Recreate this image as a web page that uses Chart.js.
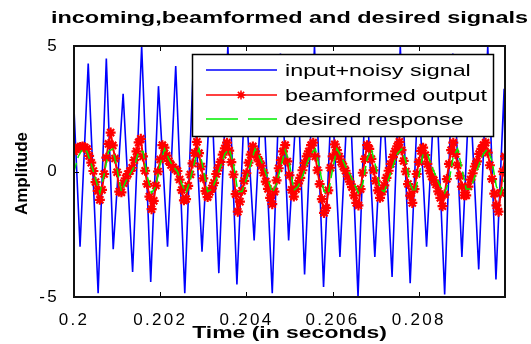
<!DOCTYPE html>
<html>
<head>
<meta charset="utf-8">
<script src="https://cdn.jsdelivr.net/npm/chart.js@4.4.0/dist/chart.umd.min.js"></script>
<style>
  html, body { margin: 0; padding: 0; background: #fff; }
</style>
</head>
<body>
<canvas id="myChart" width="531" height="344"></canvas>
<script>
// input + noise: times (s) and amplitudes read at the peaks / troughs
const blueT = [0.2, 0.20014, 0.20033, 0.20056, 0.20075, 0.20091, 0.20114, 0.20136, 0.20157, 0.20178,
  0.20196, 0.20217, 0.20236, 0.20257, 0.20276, 0.20297, 0.20318, 0.20336, 0.20357, 0.20378,
  0.20397, 0.20418, 0.20437, 0.2046, 0.20479, 0.20498, 0.20519, 0.20535, 0.20558, 0.20579,
  0.20598, 0.20617, 0.20638, 0.20659, 0.20677, 0.20698, 0.20717, 0.20738, 0.20757, 0.2078,
  0.20799, 0.20818, 0.20839, 0.2086, 0.20879, 0.209, 0.20918, 0.20939, 0.2096, 0.20979,
  0.20998, 0.21];
const blueV = [2.5, -3.0, 4.3, -4.85, 4.5, -3.1, 3.1, -4.0, 5.0, -4.4,
  3.4, -3.0, 4.2, -4.85, 3.9, -3.2, 3.6, -4.05, 5.0, -4.5,
  3.3, -2.75, 3.8, -4.85, 4.7, -2.75, 3.5, -4.1, 5.0, -4.6,
  3.2, -3.4, 4.0, -5.0, 3.6, -3.4, 3.0, -4.2, 5.0, -4.45,
  3.4, -3.0, 3.9, -4.9, 4.7, -3.4, 3.5, -3.9, 5.0, -4.3,
  3.3, 0.5];

// beamformed output, one value every 0.05 ms from 0.2 s
const redStart = 0.2;
const redStep = 0.00005;
const redV = [0.8, 0.88, 0.95, 0.98, 1.0, 0.96, 0.9, 0.62, 0.35, 0.02,
  -0.42, -0.77, -1.13, -0.73, -0.1, 0.55, 1.1, 1.55, 1.04, 0.52,
  -0.03, -0.8, -0.83, -0.47, -0.27, -0.1, 0.02, 0.15, 0.45, 0.8,
  1.16, 1.3, 0.6, 0.03, -0.5, -1.0, -1.5, -1.17, -0.56, 0.0,
  0.48, 1.05, 0.95, 0.63, 0.42, 0.26, 0.17, 0.09, 0.02, -0.32,
  -0.74, -1.15, -1.1, -0.57, -0.12, 0.32, 0.74, 1.18, 0.73, 0.2,
  -0.27, -0.78, -1.02, -0.81, -0.67, -0.45, -0.1, 0.15, 0.38, 0.67,
  0.92, 1.15, 0.83, 0.37, -0.12, -0.9, -1.6, -1.2, -0.77, -0.37,
  -0.07, 0.35, 0.67, 1.0, 0.8, 0.57, 0.4, 0.23, -0.05, -0.4,
  -0.69, -1.05, -1.3, -0.8, -0.35, 0.13, 0.45, 0.8, 1.05, 0.4,
  -0.15, -0.73, -1.0, -0.7, -0.47, -0.25, 0.05, 0.33, 0.6, 0.8,
  1.05, 1.15, 0.6, 0.05, -0.5, -1.1, -1.65, -1.45, -0.75, 0.15,
  0.6, 1.08, 0.85, 0.6, 0.38, 0.2, 0.03, -0.2, -0.4, -0.62,
  -0.95, -1.25, -1.35, -0.7, -0.05, 0.5, 1.05, 0.9, 0.5, 0.05,
  -0.37, -0.75, -1.05, -0.8, -0.55, -0.25, 0.03, 0.3, 0.57, 0.8,
  1.0, 1.18, 0.85, 0.42, 0.0, -0.5, -0.96, -1.25, -0.7, -0.1,
  0.38, 0.82, 0.95, 0.65, 0.3, 0.03, -0.2, -0.35, -0.52, -0.79,
  -1.05, -1.38, -0.92, -0.3, 0.3, 0.85, 1.15, 0.7, 0.25, -0.17,
  -0.6, -0.95, -0.95, -0.6, -0.32, -0.07, 0.2, 0.4, 0.7, 0.9,
  1.05, 1.15, 0.75, 0.25, -0.3, -0.88, -1.35, -1.6, -0.85, 0.0,
  0.6];

// desired response, one value every 0.1 ms from 0.2 s
const greenStart = 0.2;
const greenStep = 0.0001;
const greenV = [0.0, 0.6, 0.9, 0.8, 0.3, -0.3, -0.85, -0.1, 0.8, 0.9,
  0.1, -0.8, -0.4, -0.1, 0.2, 0.8, 0.8, -0.2, -0.85, -0.6,
  0.3, 0.9, 0.5, 0.2, 0.0, -0.5, -0.85, -0.3, 0.4, 0.9,
  0.1, -0.8, -0.7, -0.3, 0.2, 0.7, 0.9, 0.3, -0.8, -0.8,
  -0.3, 0.3, 0.9, 0.6, 0.2, -0.3, -0.85, -0.5, 0.2, 0.85,
  0.3, -0.75, -0.6, -0.2, 0.3, 0.7, 0.9, 0.1, -0.8, -0.9,
  0.1, 0.9, 0.6, 0.2, -0.1, -0.5, -0.85, -0.5, 0.5, 0.9,
  0.2, -0.7, -0.8, -0.3, 0.2, 0.7, 0.9, 0.4, -0.5, -0.85,
  -0.2, 0.7, 0.7, 0.2, -0.2, -0.6, -0.85, -0.4, 0.6, 0.9,
  0.1, -0.7, -0.7, -0.2, 0.3, 0.7, 0.9, 0.4, -0.6, -0.9,
  -0.2];

const seriesNames = ["input+noisy signal", "beamformed output", "desired response"];
const seriesColors = ["#0000ff", "#ff0000", "#00ee00"];

const xTicks = [0.2, 0.202, 0.204, 0.206, 0.208];
const xTickLabels = ["0.2", "0.202", "0.204", "0.206", "0.208"];
const yTicks = [-5, 0, 5];
const yTickLabels = ["-5", "0", "5"];

const FONT = '"Liberation Sans", Arial, sans-serif';

const redT = redV.map((_, i) => +(redStart + i * redStep).toFixed(6));
const greenT = greenV.map((_, i) => +(greenStart + i * greenStep).toFixed(6));
const pts = (xs, ys) => xs.map((x, i) => ({ x: x, y: ys[i] }));

function wideText(ctx, text, x, y, sx, align) {
    ctx.save();
    ctx.translate(x, y);
    ctx.scale(sx, 1);
    ctx.textAlign = align;
    ctx.textBaseline = 'middle';
    ctx.fillText(text, 0, 0);
    ctx.restore();
}

const matlabLook = {
    id: 'matlabLook',
    beforeDraw(chart) {
        chart.ctx.letterSpacing = '2.3px';
    },
    afterDraw(chart) {
        const ctx = chart.ctx;
        const { left, right, top, bottom } = chart.chartArea;
        const xs = chart.scales.x, ys = chart.scales.y;
        ctx.save();
        ctx.letterSpacing = '0px';

        // inward ticks on all four sides
        ctx.strokeStyle = '#000';
        ctx.lineWidth = 1;
        ctx.beginPath();
        xTicks.forEach(v => {
            const px = Math.round(xs.getPixelForValue(v)) + 0.5;
            ctx.moveTo(px, bottom); ctx.lineTo(px, bottom - 5);
            ctx.moveTo(px, top); ctx.lineTo(px, top + 5);
        });
        yTicks.forEach(v => {
            const py = Math.round(ys.getPixelForValue(v)) + 0.5;
            ctx.moveTo(left, py); ctx.lineTo(left + 5, py);
            ctx.moveTo(right, py); ctx.lineTo(right - 5, py);
        });
        ctx.stroke();

        // axes box
        ctx.lineWidth = 2;
        ctx.strokeStyle = '#111';
        ctx.strokeRect(left, top, right - left, bottom - top);

        // legend
        const lx = 192, ly = 54, lw = 301, lh = 82;
        ctx.fillStyle = '#fff';
        ctx.fillRect(lx, ly, lw, lh);
        ctx.lineWidth = 1.5;
        ctx.strokeStyle = '#000';
        ctx.strokeRect(lx + 0.5, ly + 0.5, lw, lh);
        const rowY = [70, 95, 119];
        ctx.font = '17px ' + FONT;
        seriesNames.forEach((name, i) => {
            const y = rowY[i];
            ctx.strokeStyle = seriesColors[i];
            ctx.lineWidth = 1.5;
            ctx.setLineDash(i === 2 ? [32, 10] : []);
            ctx.beginPath();
            ctx.moveTo(206, y); ctx.lineTo(277, y);
            ctx.stroke();
            ctx.setLineDash([]);
            if (i === 1) {
                const c = 241, r = 4.5;
                ctx.beginPath();
                ctx.moveTo(c - r, y); ctx.lineTo(c + r, y);
                ctx.moveTo(c, y - r); ctx.lineTo(c, y + r);
                ctx.moveTo(c - r * 0.7, y - r * 0.7); ctx.lineTo(c + r * 0.7, y + r * 0.7);
                ctx.moveTo(c - r * 0.7, y + r * 0.7); ctx.lineTo(c + r * 0.7, y - r * 0.7);
                ctx.stroke();
                ctx.fillStyle = seriesColors[1];
                ctx.beginPath(); ctx.arc(c, y, 2.5, 0, Math.PI * 2); ctx.fill();
            }
            ctx.fillStyle = '#000';
            wideText(ctx, name, 285, y + 1, 1.37, 'left');
        });

        // title and axis labels
        ctx.fillStyle = '#000';
        ctx.font = 'bold 17px ' + FONT;
        wideText(ctx, 'incoming,beamformed and desired signals', (left + right) / 2, 18, 1.38, 'center');
        wideText(ctx, 'Time (in seconds)', (left + right) / 2, 333, 1.35, 'center');
        ctx.save();
        ctx.translate(22, (top + bottom) / 2 + 2);
        ctx.rotate(-Math.PI / 2);
        ctx.textAlign = 'center';
        ctx.textBaseline = 'middle';
        ctx.fillText('Amplitude', 0, 0);
        ctx.restore();

        ctx.restore();
    }
};

new Chart("myChart", {
    type: "line",
    data: {
        datasets: [{
            label: seriesNames[0],
            data: pts(blueT, blueV),
            borderColor: seriesColors[0],
            borderWidth: 1.6,
            pointRadius: 0,
            order: 2,
        }, {
            label: seriesNames[1],
            data: pts(redT, redV),
            borderColor: seriesColors[1],
            borderWidth: 2,
            pointStyle: 'star',
            pointRadius: 5,
            pointBorderColor: seriesColors[1],
            pointBackgroundColor: seriesColors[1],
            pointBorderWidth: 2.2,
            order: 1,
        }, {
            label: seriesNames[2],
            data: pts(greenT, greenV),
            borderColor: seriesColors[2],
            borderWidth: 1.5,
            borderDash: [9, 5],
            pointRadius: 0,
            order: 0,
        }],
    },
    options: {
        responsive: false,
        animation: false,
        devicePixelRatio: 1,
        layout: { padding: { left: 0, top: 46, right: 26, bottom: 0 } },
        plugins: {
            legend: { display: false },
            title: { display: false },
            tooltip: { enabled: false },
        },
        scales: {
            x: {
                type: 'linear',
                min: 0.2,
                max: 0.21,
                grid: { display: false },
                border: { display: false },
                afterBuildTicks: (scale) => { scale.ticks = xTicks.map(v => ({ value: v })); },
                afterFit: (scale) => { scale.height = 47; },
                ticks: {
                    autoSkip: false,
                    maxRotation: 0,
                    padding: 5,
                    color: '#000',
                    font: { family: FONT, size: 17 },
                    callback: (v) => xTickLabels[xTicks.indexOf(v)] ?? '',
                },
            },
            y: {
                min: -5,
                max: 5,
                grid: { display: false },
                border: { display: false },
                afterBuildTicks: (scale) => { scale.ticks = yTicks.map(v => ({ value: v })); },
                afterFit: (scale) => { scale.width = 74; },
                ticks: {
                    padding: 7,
                    color: '#000',
                    font: { family: FONT, size: 17 },
                    callback: (v) => yTickLabels[yTicks.indexOf(v)] ?? '',
                },
            },
        },
    },
    plugins: [matlabLook],
});
</script>
</body>
</html>
